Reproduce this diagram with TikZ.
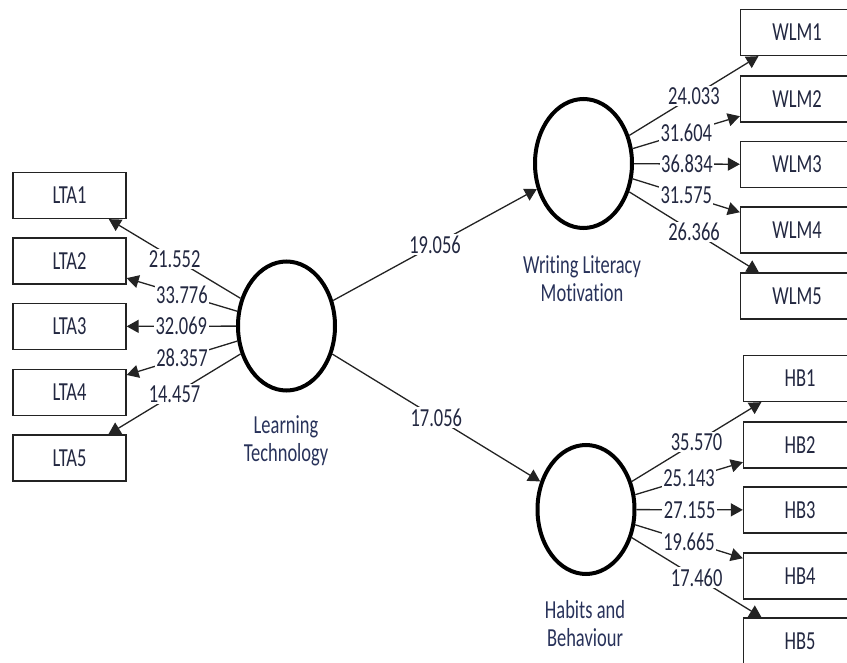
\documentclass[tikz,border=0pt]{standalone}
\usepackage{fontspec}
\setmainfont{Carlito}[FakeStretch=0.71,Ligatures={NoCommon}]
\usetikzlibrary{shapes.geometric,arrows.meta}
\definecolor{txt}{RGB}{35,40,65}
\definecolor{lat}{RGB}{40,50,90}
\definecolor{ln}{RGB}{35,35,35}
\begin{document}
\begin{tikzpicture}[x=1pt,y=-1pt,
  ind/.style={draw=ln,line width=1.3pt,minimum width=113pt,minimum height=46pt,inner sep=0pt,font=\fontsize{26}{28}\selectfont,text=txt},
  lv/.style={ellipse,draw=black,line width=4pt,minimum width=97pt,minimum height=129pt,inner sep=0pt},
  arr/.style={draw=ln,line width=1.3pt,-{Triangle[length=12pt,width=13pt]}},
  lbl/.style={fill=white,inner sep=1.5pt,font=\fontsize{26}{28}\selectfont,text=txt},
  lvl/.style={align=center,font=\fontsize{26}{28}\selectfont,text=lat}]
\useasboundingbox (0,0) rectangle (847,663);
\clip (0,0) rectangle (847,663);
% latent variables
\node[lv] (LT) at (286.5,326) {};
\node[lv] (WLM) at (583.5,163.5) {};
\node[lv] (HB) at (586,509.5) {};
\node[lvl] (LTl) at (286,441) {Learning\\Technology};
\node[lvl] (WLMl) at (582,279) {Writing Literacy\\Motivation};
\node[lvl] (HBl) at (585,624) {Habits and\\Behaviour};
% indicators
\node[ind] (LTA1) at (69.5,195.5) {LTA1};
\node[ind] (LTA2) at (69.5,261) {LTA2};
\node[ind] (LTA3) at (69.5,326.5) {LTA3};
\node[ind] (LTA4) at (69.5,392.5) {LTA4};
\node[ind] (LTA5) at (69.5,458) {LTA5};
\node[ind] (WLM1) at (797,32.5) {WLM1};
\node[ind] (WLM2) at (797,99) {WLM2};
\node[ind] (WLM3) at (797,164.5) {WLM3};
\node[ind] (WLM4) at (797,230) {WLM4};
\node[ind] (WLM5) at (797,296) {WLM5};
\node[ind] (HB1) at (800,378.5) {HB1};
\node[ind] (HB2) at (800,445) {HB2};
\node[ind] (HB3) at (800,510) {HB3};
\node[ind] (HB4) at (800,576) {HB4};
\node[ind] (HB5) at (800,641) {HB5};
% structural paths
\draw[arr] (LT) -- node[lbl]{19.056} (WLM);
\draw[arr] (LT) -- node[lbl]{17.056} (HB);
% loadings
\draw[arr] (LT) -- node[lbl]{21.552} (LTA1);
\draw[arr] (LT) -- node[lbl]{33.776} (LTA2);
\draw[arr] (LT) -- node[lbl]{32.069} (LTA3);
\draw[arr] (LT) -- node[lbl]{28.357} (LTA4);
\draw[arr] (LT) -- node[lbl]{14.457} (LTA5);
\draw[arr] (WLM) -- node[lbl]{24.033} (WLM1);
\draw[arr] (WLM) -- node[lbl]{31.604} (WLM2);
\draw[arr] (WLM) -- node[lbl]{36.834} (WLM3);
\draw[arr] (WLM) -- node[lbl]{31.575} (WLM4);
\draw[arr] (WLM) -- node[lbl]{26.366} (WLM5);
\draw[arr] (HB) -- node[lbl]{35.570} (HB1);
\draw[arr] (HB) -- node[lbl]{25.143} (HB2);
\draw[arr] (HB) -- node[lbl]{27.155} (HB3);
\draw[arr] (HB) -- node[lbl]{19.665} (HB4);
\draw[arr] (HB) -- node[lbl]{17.460} (HB5);
\end{tikzpicture}
\end{document}
